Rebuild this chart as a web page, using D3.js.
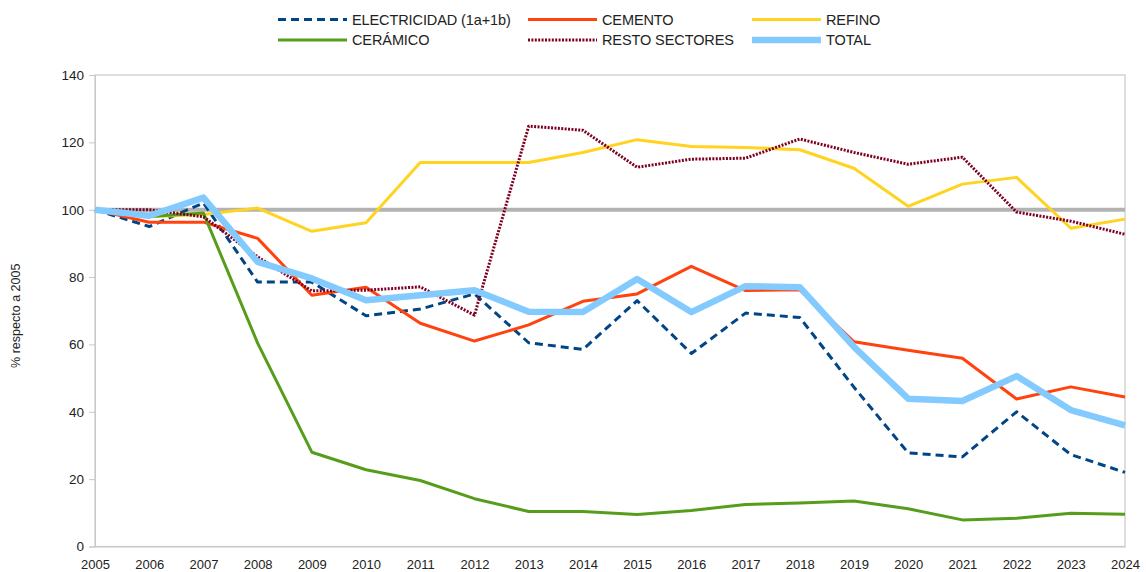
<!DOCTYPE html>
<html>
<head>
<meta charset="utf-8">
<script src="https://cdn.jsdelivr.net/npm/d3@7"></script>
<style>
  body { margin: 0; background: #fff; }
  text { font-family: "Liberation Sans", Arial, sans-serif; }
</style>
</head>
<body>
<div id="wrapper"></div>
<script>
// 1. Data
const years = [2005, 2006, 2007, 2008, 2009, 2010, 2011, 2012, 2013, 2014,
  2015, 2016, 2017, 2018, 2019, 2020, 2021, 2022, 2023, 2024]
const electricidad = [100, 95, 102, 78.5, 78.5, 68.5, 70.5, 75, 60.5, 58.5,
  73, 57.3, 69.3, 68, 47.3, 27.8, 26.6, 40, 27.3, 22]
const cemento = [100, 96.3, 96.3, 91.5, 74.6, 77, 66.3, 61, 65.8, 72.8,
  75, 83.2, 76, 76.2, 60.8, 58.3, 55.9, 43.8, 47.4, 44.4]
const refino = [100, 97.9, 98.6, 100.5, 93.6, 96.1, 114, 114, 114, 117,
  120.8, 118.8, 118.5, 117.8, 112.3, 101, 107.6, 109.6, 94.5, 97.2]
const ceramico = [100, 98, 99, 60.4, 28, 22.8, 19.6, 14.2, 10.4, 10.4,
  9.5, 10.7, 12.5, 12.9, 13.5, 11.2, 7.9, 8.4, 9.9, 9.6]
const resto = [100, 100, 97.9, 86, 75.9, 76.1, 77.1, 68.7, 124.8, 123.6,
  112.6, 115, 115.3, 121, 117, 113.5, 115.6, 99.3, 96.6, 92.7]
const total = [100, 98.2, 103.6, 84.5, 79.6, 73.1, 74.6, 76.1, 69.7, 69.6,
  79.4, 69.6, 77.3, 77, 59.3, 43.9, 43.2, 50.6, 40.5, 36]
const reference = years.map(() => 100)
const yTicks = [0, 20, 40, 60, 80, 100, 120, 140]

const series = [
  { name: "ELECTRICIDAD (1a+1b)", values: electricidad, color: "#004586", width: 3, dash: "8 5" },
  { name: "CEMENTO", values: cemento, color: "#ff420e", width: 3, dash: null },
  { name: "REFINO", values: refino, color: "#ffd320", width: 3, dash: null },
  { name: "CERÁMICO", values: ceramico, color: "#579d1c", width: 3, dash: null },
  { name: "RESTO SECTORES", values: resto, color: "#7e0021", width: 3, dash: "2 1.4" },
  { name: "TOTAL", values: total, color: "#83caff", width: 6.5, dash: null },
]

// 2. Dimensions
let dimensions = {
  width: 1146,
  height: 572,
  margin: { top: 75, right: 21, bottom: 25.5, left: 95 }
}
dimensions.boundedWidth = dimensions.width - dimensions.margin.left - dimensions.margin.right
dimensions.boundedHeight = dimensions.height - dimensions.margin.top - dimensions.margin.bottom

// 3. Canvas
const wrapper = d3.select("#wrapper")
  .append("svg")
  .attr("width", dimensions.width)
  .attr("height", dimensions.height)

const bounds = wrapper.append("g")
  .attr("transform", `translate(${dimensions.margin.left},${dimensions.margin.top})`)

// 4. Scales
const xScale = d3.scalePoint()
  .domain(years)
  .range([0, dimensions.boundedWidth])

const yScale = d3.scaleLinear()
  .domain([0, 140])
  .range([dimensions.boundedHeight, 0])

// 5. Frame and axes
bounds.append("rect")
  .attr("width", dimensions.boundedWidth)
  .attr("height", dimensions.boundedHeight)
  .attr("fill", "none")
  .attr("stroke", "#c8c8c8")
  .attr("stroke-width", 1.2)

const yAxis = bounds.append("g")
  .call(d3.axisLeft(yScale).tickValues(yTicks).tickSize(6).tickPadding(5))
yAxis.select(".domain").attr("stroke", "#c8c8c8")
yAxis.selectAll(".tick line").attr("stroke", "#c8c8c8")
yAxis.selectAll(".tick text")
  .attr("fill", "#222")
  .style("font-size", "13.5px")
  .style("font-family", "Liberation Sans, Arial, sans-serif")

const xAxis = bounds.append("g")
  .attr("transform", `translate(0,${dimensions.boundedHeight})`)
  .call(d3.axisBottom(xScale).tickSize(0).tickPadding(13))
xAxis.select(".domain").attr("stroke", "#c8c8c8")
xAxis.selectAll(".tick text")
  .attr("fill", "#222")
  .style("font-size", "13px")
  .style("font-family", "Liberation Sans, Arial, sans-serif")

bounds.append("text")
  .attr("transform", `translate(${17 - dimensions.margin.left},${dimensions.boundedHeight / 2 + 5}) rotate(-90)`)
  .attr("text-anchor", "middle")
  .attr("dominant-baseline", "middle")
  .style("font-size", "12.5px")
  .attr("fill", "#222")
  .text("% respecto a 2005")

// 6. Lines
const lineGen = d3.line()
  .x((d, i) => xScale(years[i]))
  .y(d => yScale(d))

bounds.append("path")
  .attr("d", lineGen(reference))
  .attr("fill", "none")
  .attr("stroke", "#b3b3b3")
  .attr("stroke-width", 4)

bounds.selectAll(".series")
  .data(series)
  .join("path")
  .attr("class", "series")
  .attr("d", d => lineGen(d.values))
  .attr("fill", "none")
  .attr("stroke", d => d.color)
  .attr("stroke-width", d => d.width)
  .attr("stroke-dasharray", d => d.dash)
  .attr("stroke-linejoin", "round")

// 7. Legend
const legendCols = [278, 528, 752]
const legendRows = [19.5, 40]
const legend = wrapper.append("g")
const items = legend.selectAll("g")
  .data(series)
  .join("g")
  .attr("transform", (d, i) => `translate(${legendCols[i % 3]},${legendRows[Math.floor(i / 3)]})`)

items.append("line")
  .attr("x1", 0).attr("x2", 69)
  .attr("stroke", d => d.color)
  .attr("stroke-width", d => d.width)
  .attr("stroke-dasharray", d => d.dash)

items.append("text")
  .attr("x", 74)
  .attr("dy", "0.35em")
  .style("font-size", "14.5px")
  .style("letter-spacing", "-0.1px")
  .attr("fill", "#222")
  .text(d => d.name)
</script>
</body>
</html>
